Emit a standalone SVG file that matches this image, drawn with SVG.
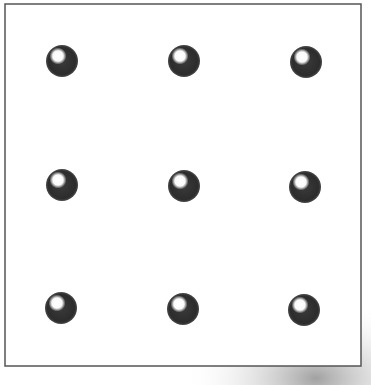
<svg xmlns="http://www.w3.org/2000/svg" width="371" height="385" viewBox="0 0 371 385">
<defs>
<radialGradient id="ball" cx="0.5" cy="0.5" r="0.5">
<stop offset="0" stop-color="#3a3a3a"/>
<stop offset="0.85" stop-color="#2c2c2c"/>
<stop offset="1" stop-color="#4a4a4a"/>
</radialGradient>
<radialGradient id="hl" cx="0.5" cy="0.5" r="0.5">
<stop offset="0" stop-color="#fff"/>
<stop offset="0.6" stop-color="#fafafa"/>
<stop offset="1" stop-color="#fff" stop-opacity="0"/>
</radialGradient>
<radialGradient id="smudge" cx="0.75" cy="0.95" r="0.6">
<stop offset="0" stop-color="#8a8a8a" stop-opacity="0.8"/>
<stop offset="1" stop-color="#ffffff" stop-opacity="0"/>
</radialGradient>
<g id="sphere">
<circle r="16" fill="url(#ball)"/>
<circle cx="-4" cy="-5" r="8.5" fill="url(#hl)"/>
</g>
</defs>
<rect width="371" height="385" fill="#fff"/>
<rect x="150" y="250" width="221" height="135" fill="url(#smudge)"/>
<rect x="5" y="4" width="356" height="362" fill="#fff" stroke="#555" stroke-width="1.5"/>
<g id="n1"><use href="#sphere" x="62" y="61"/></g>
<g id="n2"><use href="#sphere" x="184" y="61"/></g>
<g id="n3"><use href="#sphere" x="306" y="62"/></g>
<g id="n4"><use href="#sphere" x="62" y="185"/></g>
<g id="n5"><use href="#sphere" x="184" y="186"/></g>
<g id="n6"><use href="#sphere" x="305" y="187"/></g>
<g id="n7"><use href="#sphere" x="61" y="308"/></g>
<g id="n8"><use href="#sphere" x="183" y="309"/></g>
<g id="n9"><use href="#sphere" x="304" y="310"/></g>
<g id="connectors"></g>
</svg>
